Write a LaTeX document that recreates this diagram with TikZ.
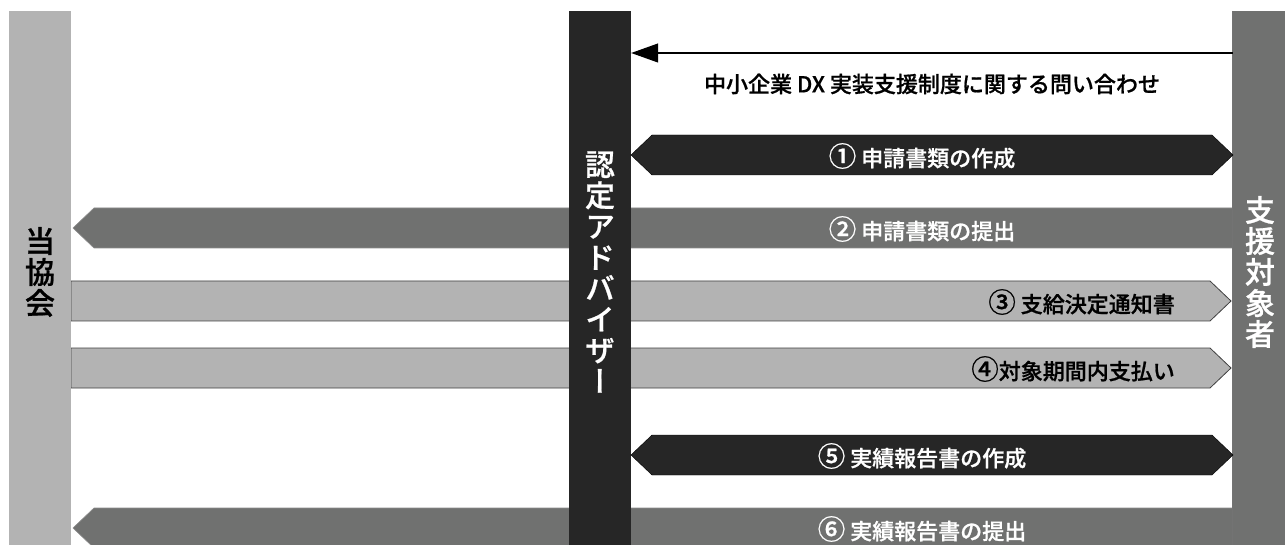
\documentclass[tikz,border=0pt]{standalone}
\usepackage{fontspec}
\setmainfont{Noto Sans CJK JP Medium}[FakeBold=0.8]
\newfontfamily\vjp{Noto Sans CJK JP Medium}[RawFeature=+vert, FakeBold=0.8]
\usetikzlibrary{arrows.meta, positioning}
\definecolor{lightg}{HTML}{B3B3B3}
\definecolor{midg}{HTML}{707170}
\definecolor{darkg}{HTML}{262626}
\newcommand{\circnum}[1]{\scalebox{1.25}{#1}}
\tikzstyle{lane} = [rectangle,
			inner sep = 0pt,
			minimum width = 62pt,
			minimum height = 534pt]
\tikzstyle{vlabel} = [font = \vjp\fontsize{30}{31}\selectfont,
			align = center,
			inner sep = 0pt]
\tikzstyle{lbl} = [font = \fontsize{22}{24}\selectfont,
			inner sep = 0pt]
\tikzstyle{midband} = [fill = midg,
			draw = black!45,
			line width = 0.6pt]
\tikzstyle{lightband} = [fill = lightg,
			draw = black!75,
			line width = 0.8pt]
\tikzstyle{darkband} = [fill = darkg]

\begin{document}
\begin{tikzpicture}[x=1pt, y=-1pt]
	\useasboundingbox (0,0) rectangle (1285,545);
	% bands running behind the middle lane
	\draw [midband] (73,228) -- (94,208) -- (1233,208) -- (1233,248) -- (94,248) -- cycle;
	\draw [lightband] (71,281) -- (1210,281) -- (1231,301) -- (1210,321) -- (71,321) -- cycle;
	\draw [lightband] (71,348) -- (1210,348) -- (1231,368) -- (1210,388) -- (71,388) -- cycle;
	\draw [midband] (73,528) -- (94,508) -- (1233,508) -- (1233,548) -- (94,548) -- cycle;
	% lanes
	\node [lane, fill=lightg] (kyokai) at (40,278) {};
	\node [lane, fill=darkg] (advisor) at (600,278) {};
	\node [lane, fill=midg, minimum width=52pt] (shien) at (1259,278) {};
	\draw [black!55, line width=0.8pt] (shien.north west) -- (shien.south west);
	\node [vlabel] (kyokai-label) at (40,272) {当\\協\\会};
	\node [vlabel, text=white] (advisor-label) at (600,272) {認\\定\\ア\\ド\\バ\\イ\\ザ\\ー};
	\node [vlabel, text=white] (shien-label) at (1260,272) {支\\援\\対\\象\\者};
	% bands between advisor and applicant
	\draw [darkband] (631,155) -- (652,135) -- (1212,135) -- (1233,155) -- (1212,175) -- (652,175) -- cycle;
	\draw [darkband] (631,455) -- (652,435) -- (1212,435) -- (1233,455) -- (1212,475) -- (652,475) -- cycle;
	% inquiry
	\coordinate (inquiry) at (0,53);
	\draw [line width=1.2pt, -{Triangle[length=27pt, width=19pt]}] (shien.west |- inquiry) -- (advisor.east |- inquiry);
	\node [lbl] (inquiry-label) at (932,84) {中小企業 DX 実装支援制度に関する問い合わせ};
	% steps
	\node [lbl, text=white] (step1) at (922,156) {\circnum{①} 申請書類の作成};
	\node [lbl, text=white] (step2) at (922,229) {\circnum{②} 申請書類の提出};
	\node [lbl, anchor=east] (step3) at (1175,302) {\circnum{③} 支給決定通知書};
	\node [lbl, anchor=east] (step4) at (1175,369) {\circnum{④}対象期間内支払い};
	\node [lbl, text=white] (step5) at (922,456) {\circnum{⑤} 実績報告書の作成};
	\node [lbl, text=white] (step6) at (922,529) {\circnum{⑥} 実績報告書の提出};
\end{tikzpicture}
\end{document}
